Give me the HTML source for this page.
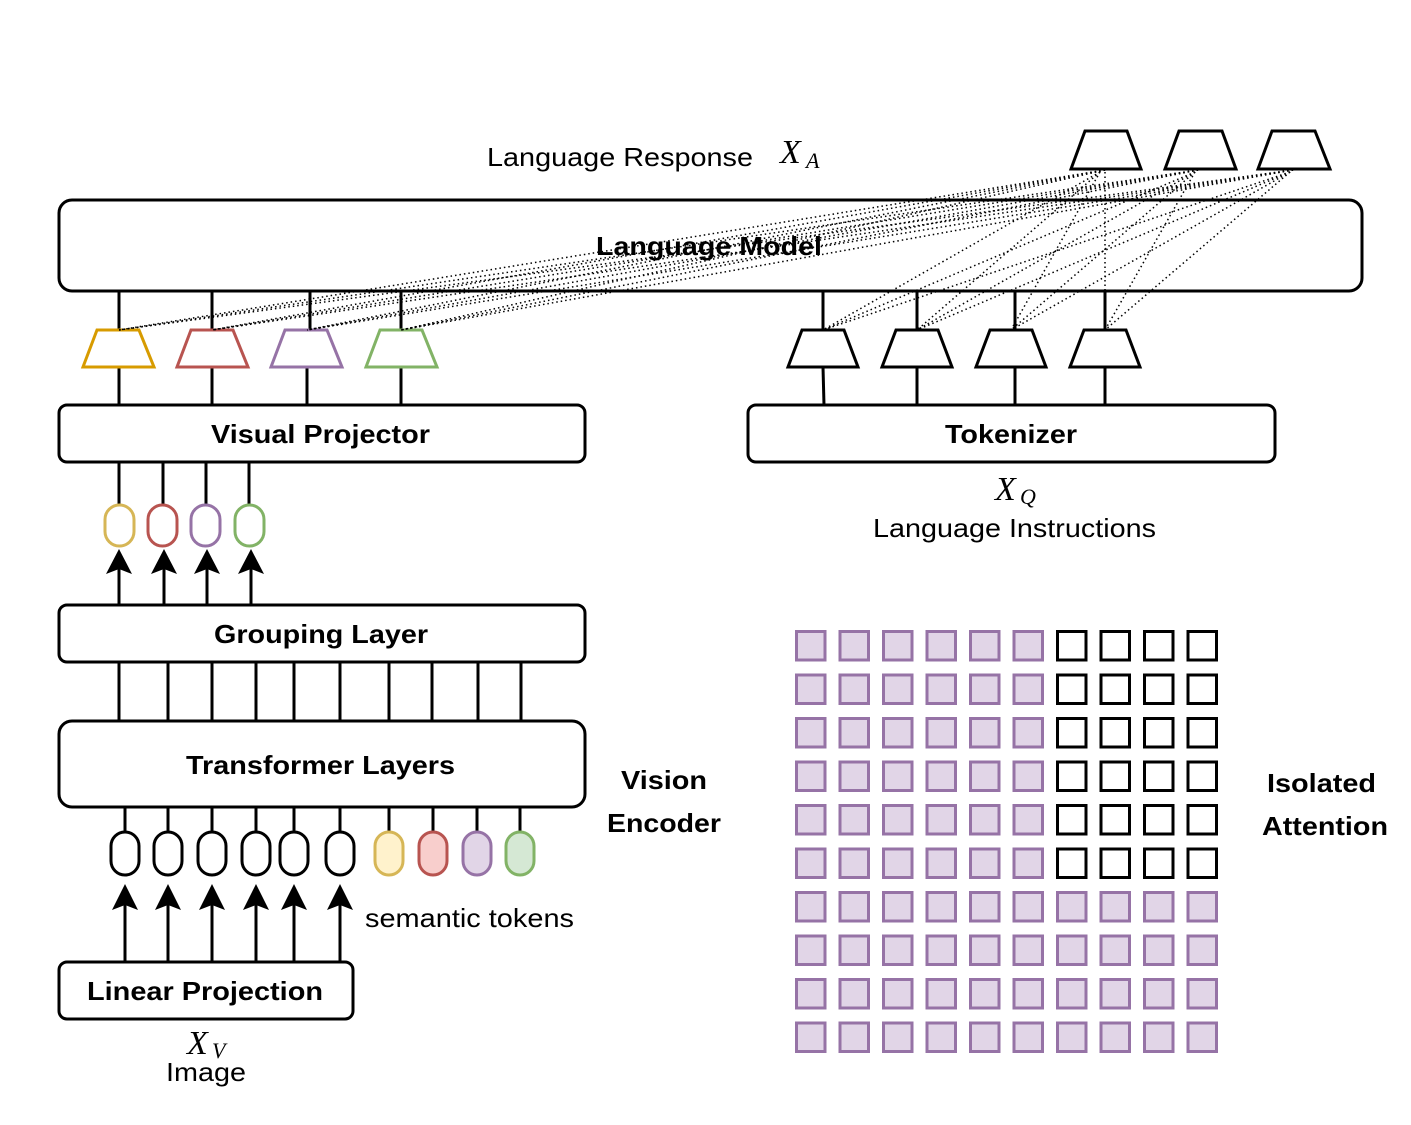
<!DOCTYPE html>
<html><head><meta charset="utf-8"><style>
html,body{margin:0;padding:0;background:#fff;}
svg{display:block;}
text{font-family:"Liberation Sans",Arial,sans-serif;}
.b{font-weight:bold;font-size:26px;}
.s{font-size:26px;}
.m{font-family:"Liberation Serif",serif;font-style:italic;}
</style></head><body>
<svg width="1411" height="1125" viewBox="0 0 1411 1125" xmlns="http://www.w3.org/2000/svg">
<defs>
<pattern id="pp" x="795" y="630" width="43.5" height="43.5" patternUnits="userSpaceOnUse">
<rect x="1.5" y="1.5" width="28.5" height="28.5" fill="#e1d5e7" stroke="#9673a6" stroke-width="3"/>
</pattern>
<pattern id="pb" x="795" y="630" width="43.5" height="43.5" patternUnits="userSpaceOnUse">
<rect x="1.5" y="1.5" width="28.5" height="28.5" fill="#fff" stroke="#000" stroke-width="3"/>
</pattern>
</defs>

<g fill="#fff" stroke="#000" stroke-width="3" stroke-linejoin="miter">
<polygon points="1085,131 1127,131 1141,169 1071,169"/>
<polygon points="1179,131 1222,131 1236,169 1165,169"/>
<polygon points="1272,131 1315,131 1330,169 1258,169"/>
</g>

<text x="487" y="166" class="s" textLength="266" lengthAdjust="spacingAndGlyphs">Language Response</text>
<text x="780" y="163" class="m" font-size="34">X</text>
<text x="806" y="168" class="m" font-size="22">A</text>

<rect x="59" y="200" width="1303" height="91" rx="13" fill="#fff" stroke="#000" stroke-width="3"/>
<text x="596" y="255" class="b" textLength="226" lengthAdjust="spacingAndGlyphs">Language Model</text>

<g stroke="#000" stroke-width="3">
<line x1="119" y1="291" x2="119" y2="330"/><line x1="212" y1="291" x2="212" y2="330"/>
<line x1="310" y1="291" x2="310" y2="330"/><line x1="401" y1="291" x2="401" y2="330"/>
<line x1="119" y1="367" x2="119" y2="405"/><line x1="212" y1="367" x2="212" y2="405"/>
<line x1="307" y1="367" x2="307" y2="405"/><line x1="401" y1="367" x2="401" y2="405"/>
<line x1="823" y1="291" x2="823" y2="330"/><line x1="917" y1="291" x2="917" y2="330"/>
<line x1="1015" y1="291" x2="1015" y2="330"/><line x1="1105" y1="291" x2="1105" y2="330"/>
<line x1="823" y1="367" x2="824" y2="405"/><line x1="917" y1="367" x2="917" y2="405"/>
<line x1="1015" y1="367" x2="1015" y2="405"/><line x1="1105" y1="367" x2="1105" y2="405"/>
</g>

<g fill="#fff" stroke-width="3">
<polygon points="97,330 139,330 154,367 83,367" stroke="#d79b00"/>
<polygon points="191,330 233,330 248,367 177,367" stroke="#b85450"/>
<polygon points="285,330 327,330 342,367 271,367" stroke="#9673a6"/>
<polygon points="380,330 422,330 437,367 366,367" stroke="#82b366"/>
</g>
<g fill="#fff" stroke="#000" stroke-width="3">
<polygon points="802,330 844,330 858,367 788,367"/>
<polygon points="896,330 938,330 952,367 882,367"/>
<polygon points="990,330 1032,330 1046,367 976,367"/>
<polygon points="1084,330 1126,330 1140,367 1070,367"/>
</g>

<g stroke="#000" stroke-width="1.5" stroke-dasharray="1.5 3" fill="none">
<line x1="1105" y1="170" x2="119" y2="330"/><line x1="1105" y1="170" x2="212" y2="330"/><line x1="1105" y1="170" x2="307" y2="330"/><line x1="1105" y1="170" x2="401" y2="330"/>
<line x1="1198" y1="170" x2="119" y2="330"/><line x1="1198" y1="170" x2="212" y2="330"/><line x1="1198" y1="170" x2="307" y2="330"/><line x1="1198" y1="170" x2="401" y2="330"/>
<line x1="1293" y1="170" x2="119" y2="330"/><line x1="1293" y1="170" x2="212" y2="330"/><line x1="1293" y1="170" x2="307" y2="330"/><line x1="1293" y1="170" x2="401" y2="330"/>
<line x1="1100" y1="172" x2="823" y2="330"/><line x1="1100" y1="172" x2="917" y2="330"/><line x1="1100" y1="172" x2="1011" y2="330"/><line x1="1105" y1="172" x2="1105" y2="330"/>
<line x1="1195" y1="172" x2="823" y2="330"/><line x1="1195" y1="172" x2="917" y2="330"/><line x1="1195" y1="172" x2="1011" y2="330"/><line x1="1195" y1="172" x2="1105" y2="330"/>
<line x1="1290" y1="172" x2="823" y2="330"/><line x1="1290" y1="172" x2="917" y2="330"/><line x1="1290" y1="172" x2="1011" y2="330"/><line x1="1290" y1="172" x2="1105" y2="330"/>
</g>

<rect x="59" y="405" width="526" height="57" rx="8" fill="#fff" stroke="#000" stroke-width="3"/>
<text x="211" y="443" class="b" textLength="219" lengthAdjust="spacingAndGlyphs">Visual Projector</text>
<rect x="748" y="405" width="527" height="57" rx="8" fill="#fff" stroke="#000" stroke-width="3"/>
<text x="945" y="443" class="b" textLength="132" lengthAdjust="spacingAndGlyphs">Tokenizer</text>

<text x="995" y="500" class="m" font-size="34">X</text>
<text x="1020" y="504" class="m" font-size="22">Q</text>
<text x="873" y="537" class="s" textLength="283" lengthAdjust="spacingAndGlyphs">Language Instructions</text>

<g stroke="#000" stroke-width="3">
<line x1="119" y1="462" x2="119" y2="505"/><line x1="163" y1="462" x2="163" y2="505"/>
<line x1="206" y1="462" x2="206" y2="505"/><line x1="249" y1="462" x2="249" y2="505"/>
</g>
<g stroke-width="3">
<rect x="105" y="505" width="29" height="41" rx="14.5" fill="#fff" stroke="#d6b656"/>
<rect x="148" y="505" width="29" height="41" rx="14.5" fill="#fff" stroke="#b85450"/>
<rect x="191" y="505" width="29" height="41" rx="14.5" fill="#fff" stroke="#9673a6"/>
<rect x="235" y="505" width="29" height="41" rx="14.5" fill="#fff" stroke="#82b366"/>
</g>
<g stroke="#000" stroke-width="3">
<line x1="119" y1="605" x2="119" y2="565"/><line x1="164" y1="605" x2="164" y2="565"/>
<line x1="207" y1="605" x2="207" y2="565"/><line x1="251" y1="605" x2="251" y2="565"/>
</g>
<g fill="#000">
<polygon points="119,549 106,574 119,569 132,574"/>
<polygon points="164,549 151,574 164,569 177,574"/>
<polygon points="207,549 194,574 207,569 220,574"/>
<polygon points="251,549 238,574 251,569 264,574"/>
</g>

<rect x="59" y="605" width="526" height="57" rx="8" fill="#fff" stroke="#000" stroke-width="3"/>
<text x="214" y="643" class="b" textLength="214" lengthAdjust="spacingAndGlyphs">Grouping Layer</text>
<g stroke="#000" stroke-width="3">
<line x1="119" y1="662" x2="119" y2="721"/><line x1="168" y1="662" x2="168" y2="721"/>
<line x1="212" y1="662" x2="212" y2="721"/><line x1="256" y1="662" x2="256" y2="721"/>
<line x1="294" y1="662" x2="294" y2="721"/><line x1="340" y1="662" x2="340" y2="721"/>
<line x1="389" y1="662" x2="389" y2="721"/><line x1="432" y1="662" x2="432" y2="721"/>
<line x1="478" y1="662" x2="478" y2="721"/><line x1="521" y1="662" x2="521" y2="721"/>
</g>

<rect x="59" y="721" width="526" height="86" rx="13" fill="#fff" stroke="#000" stroke-width="3"/>
<text x="186" y="774" class="b" textLength="269" lengthAdjust="spacingAndGlyphs">Transformer Layers</text>

<g stroke="#000" stroke-width="3">
<line x1="125" y1="807" x2="125" y2="832"/><line x1="168" y1="807" x2="168" y2="832"/>
<line x1="212" y1="807" x2="212" y2="832"/><line x1="256" y1="807" x2="256" y2="832"/>
<line x1="294" y1="807" x2="294" y2="832"/><line x1="340" y1="807" x2="340" y2="832"/>
<line x1="389" y1="807" x2="389" y2="832"/><line x1="433" y1="807" x2="433" y2="832"/>
<line x1="477" y1="807" x2="477" y2="832"/><line x1="520" y1="807" x2="520" y2="832"/>
</g>
<g stroke-width="3">
<rect x="111" y="832" width="28" height="43" rx="14" fill="#fff" stroke="#000"/>
<rect x="154" y="832" width="28" height="43" rx="14" fill="#fff" stroke="#000"/>
<rect x="198" y="832" width="28" height="43" rx="14" fill="#fff" stroke="#000"/>
<rect x="242" y="832" width="28" height="43" rx="14" fill="#fff" stroke="#000"/>
<rect x="280" y="832" width="28" height="43" rx="14" fill="#fff" stroke="#000"/>
<rect x="326" y="832" width="28" height="43" rx="14" fill="#fff" stroke="#000"/>
<rect x="375" y="832" width="28" height="43" rx="14" fill="#fff2cc" stroke="#d6b656"/>
<rect x="419" y="832" width="28" height="43" rx="14" fill="#f8cecc" stroke="#b85450"/>
<rect x="463" y="832" width="28" height="43" rx="14" fill="#e1d5e7" stroke="#9673a6"/>
<rect x="506" y="832" width="28" height="43" rx="14" fill="#d5e8d4" stroke="#82b366"/>
</g>
<g stroke="#000" stroke-width="3">
<line x1="125" y1="962" x2="125" y2="900"/><line x1="168" y1="962" x2="168" y2="900"/>
<line x1="212" y1="962" x2="212" y2="900"/><line x1="256" y1="962" x2="256" y2="900"/>
<line x1="294" y1="962" x2="294" y2="900"/><line x1="340" y1="962" x2="340" y2="900"/>
</g>
<g fill="#000">
<polygon points="125,884 112,910 125,905 138,910"/>
<polygon points="168,884 155,910 168,905 181,910"/>
<polygon points="212,884 199,910 212,905 225,910"/>
<polygon points="256,884 243,910 256,905 269,910"/>
<polygon points="294,884 281,910 294,905 307,910"/>
<polygon points="340,884 327,910 340,905 353,910"/>
</g>
<text x="365" y="927" class="s" textLength="209" lengthAdjust="spacingAndGlyphs">semantic tokens</text>

<rect x="59" y="962" width="294" height="57" rx="8" fill="#fff" stroke="#000" stroke-width="3"/>
<text x="87" y="1000" class="b" textLength="236" lengthAdjust="spacingAndGlyphs">Linear Projection</text>
<text x="187" y="1054" class="m" font-size="34">X</text>
<text x="212" y="1058" class="m" font-size="22">V</text>
<text x="166" y="1081" class="s" textLength="80" lengthAdjust="spacingAndGlyphs">Image</text>

<text x="621" y="789" class="b" textLength="86" lengthAdjust="spacingAndGlyphs">Vision</text>
<text x="607" y="832" class="b" textLength="114" lengthAdjust="spacingAndGlyphs">Encoder</text>
<text x="1267" y="792" class="b" textLength="109" lengthAdjust="spacingAndGlyphs">Isolated</text>
<text x="1262" y="835" class="b" textLength="126" lengthAdjust="spacingAndGlyphs">Attention</text>

<rect x="795" y="630" width="261" height="435" fill="url(#pp)"/>
<rect x="1056" y="891" width="174" height="174" fill="url(#pp)"/>
<rect x="1056" y="630" width="174" height="261" fill="url(#pb)"/>
</svg>
</body></html>
